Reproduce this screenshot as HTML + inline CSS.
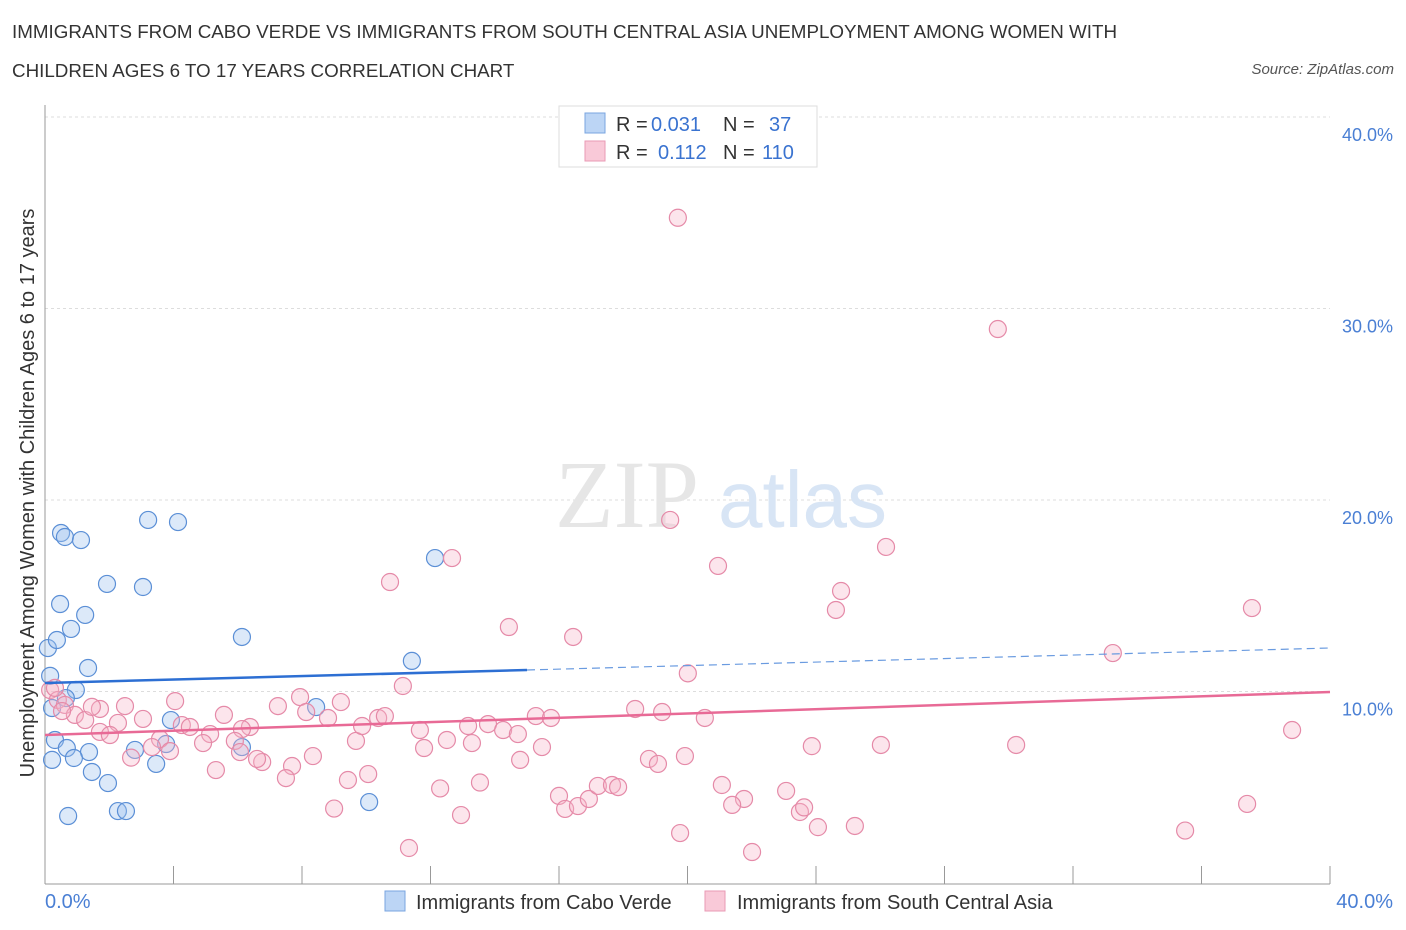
<!DOCTYPE html>
<html><head><meta charset="utf-8">
<style>
body{margin:0;background:#fff;font-family:"Liberation Sans",sans-serif;}
#wrap{position:relative;width:1406px;height:930px;overflow:hidden;}
.t{position:absolute;color:#333;font-size:18.8px;}
</style></head><body>
<div id="wrap">
<div class="t" style="left:12px;top:21px;">IMMIGRANTS FROM CABO VERDE VS IMMIGRANTS FROM SOUTH CENTRAL ASIA UNEMPLOYMENT AMONG WOMEN WITH</div>
<div class="t" style="left:12px;top:60px;">CHILDREN AGES 6 TO 17 YEARS CORRELATION CHART</div>
<div class="t" style="right:12px;top:61px;font-size:15px;font-style:italic;color:#555;">Source: ZipAtlas.com</div>
<svg id="svg" width="1406" height="930" style="position:absolute;left:0;top:0"></svg>
</div>
<script>
const yTicks=[10,20,30,40];
const xTickCount=10;
const blueX=[0.16,0.22,0.31,0.22,0.09,0.37,0.5,0.62,1.12,0.47,1.25,0.81,1.93,3.05,3.21,4.14,1.34,0.96,0.65,0.68,1.37,0.9,1.46,1.96,0.72,2.27,2.52,2.8,3.46,3.77,3.92,6.13,6.13,8.44,10.09,11.42,12.14];
const blueY=[10.87,9.19,7.52,6.48,12.32,12.74,18.33,18.12,17.96,14.62,14.05,13.32,15.67,15.51,19.01,18.9,11.28,10.13,9.71,7.1,6.89,6.58,5.85,5.27,3.55,3.81,3.81,7.0,6.27,7.31,8.56,7.15,12.9,9.24,4.28,11.65,17.02];
const pinkX=[19.7,29.66,19.46,26.18,20.95,12.67,10.74,24.78,24.62,37.57,14.44,16.44,33.24,20.01,11.14,0.16,0.4,0.62,0.93,1.25,0.31,0.53,2.49,4.05,7.94,7.25,9.21,5.57,8.13,8.81,10.37,10.58,11.67,13.17,13.79,14.26,14.72,15.28,15.75,18.37,19.21,20.54,2.27,3.05,4.26,4.51,5.14,6.38,6.13,5.91,4.92,3.58,3.33,3.89,2.68,1.71,2.02,6.76,6.6,7.69,8.34,9.68,9.87,11.8,12.51,13.29,14.79,15.47,18.8,19.08,19.92,23.87,26.02,30.23,38.82,5.32,7.5,9.43,10.06,12.3,13.54,16.0,16.19,16.59,16.93,17.21,17.65,17.84,21.07,21.76,23.07,23.5,25.21,21.39,23.63,9.0,12.95,24.06,19.77,11.33,22.01,35.49,37.42,1.71,1.46,6.07];
const pinkY=[34.79,28.98,19.01,17.6,16.61,17.02,15.77,15.3,14.31,14.41,13.42,12.9,12.06,11.0,10.34,10.13,9.61,9.35,8.83,8.56,10.24,9.03,9.29,9.55,9.76,9.29,9.5,8.83,8.98,8.67,8.67,8.77,8.04,8.25,8.35,8.04,7.83,8.77,8.67,9.14,8.98,8.67,8.41,8.62,8.3,8.2,7.83,8.2,8.09,7.47,7.36,7.57,7.15,6.94,6.6,7.94,7.78,6.37,6.53,6.16,6.68,7.47,8.25,7.1,7.52,7.36,6.48,7.15,6.53,6.27,6.68,7.2,7.26,7.26,8.04,5.95,5.53,5.43,5.74,4.99,5.3,4.6,3.92,4.07,4.44,5.12,5.17,5.06,5.17,4.44,4.86,3.76,3.03,4.13,4.0,3.94,3.6,2.97,2.66,1.88,1.67,2.79,4.18,9.14,9.25,6.89];
const X=v=>45+v*32.125, Y=v=>884-v*19.15;
const svg=document.getElementById('svg');const NS='http://www.w3.org/2000/svg';
function mk(t,a){const e=document.createElementNS(NS,t);for(const k in a)e.setAttribute(k,a[k]);svg.appendChild(e);return e;}
yTicks.forEach(v=>{const l=mk('line',{x1:45,x2:1330,y1:Y(v)-1,y2:Y(v)-1,stroke:'#ddd','stroke-dasharray':'3,3'});

const t=mk('text',{x:1393,y:Y(v)+23,'text-anchor':'end',fill:'#4a7fd4','font-size':18,'font-family':'Liberation Sans'});t.textContent=v.toFixed(1)+'%';
});
mk('line',{x1:45,x2:45,y1:105,y2:884,stroke:'#999'});
mk('line',{x1:45,x2:1330,y1:884,y2:884,stroke:'#999'});
for(let i=1;i<=xTickCount;i++){mk('line',{x1:X(i*4),x2:X(i*4),y1:866,y2:884,stroke:'#999'});}
const wm=mk('text',{x:555,y:527,fill:'#e6e6e6','font-size':96,'font-family':'Liberation Serif'});wm.textContent='ZIP';

const wm2=mk('text',{x:718,y:527,fill:'#d8e5f5','font-size':80,'font-family':'Liberation Sans'});wm2.textContent='atlas';
function dots(xs,ys,fill,stroke,name){xs.forEach((x,i)=>{const c=mk('circle',{cx:X(x),cy:Y(ys[i]),r:8.5,fill:fill,stroke:stroke,'stroke-width':1.2,'fill-opacity':0.35});
});}
dots(blueX,blueY,'#9cc0ee','#5b8fd6','point-cabo-verde');
dots(pinkX,pinkY,'#f6b4c8','#e58aa8','point-south-central-asia');
mk('line',{x1:45,y1:683,x2:527,y2:670,stroke:'#2d6fd3','stroke-width':2.5});
mk('line',{x1:527,y1:670,x2:1330,y2:648,stroke:'#6a9be0','stroke-width':1.2,'stroke-dasharray':'8,5'});
mk('line',{x1:45,y1:735,x2:1330,y2:692,stroke:'#e86a96','stroke-width':2.5});
mk('rect',{x:559,y:106,width:258,height:61,fill:'#fff',stroke:'#ddd'});
mk('rect',{x:585,y:113,width:20,height:20,fill:'#bcd5f5',stroke:'#7aa5e0'});
mk('rect',{x:585,y:141,width:20,height:20,fill:'#f9c9d8',stroke:'#e99ab5'});
function tx(x,y,s,c,n,a){const t=mk('text',{x:x,y:y,fill:c,'font-size':20,'font-family':'Liberation Sans','text-anchor':a||'start'});t.textContent=s;}
tx(616,131,'R =','#333','legend-r-label');tx(651,131,'0.031','#3a73d0','legend-r-blue');tx(723,131,'N =','#333','legend-n-label');tx(769,131,'37','#3a73d0','legend-n-blue');
tx(616,159,'R =','#333','legend-r-label');tx(658,159,'0.112','#3a73d0','legend-r-pink');tx(723,159,'N =','#333','legend-n-label');tx(762,159,'110','#3a73d0','legend-n-pink');
tx(45,908,'0.0%','#4a7fd4','x-min-label');tx(1393,908,'40.0%','#4a7fd4','x-max-label','end');
mk('rect',{x:385,y:891,width:20,height:20,fill:'#bcd5f5',stroke:'#7aa5e0'});
mk('rect',{x:705,y:891,width:20,height:20,fill:'#f9c9d8',stroke:'#e99ab5'});
tx(416,909,'Immigrants from Cabo Verde','#333','legend-cabo-verde');
tx(737,909,'Immigrants from South Central Asia','#333','legend-south-central-asia');
const yt=mk('text',{x:34,y:493,fill:'#333','font-size':20,'font-family':'Liberation Sans','text-anchor':'middle',transform:'rotate(-90 34 493)'});
yt.textContent='Unemployment Among Women with Children Ages 6 to 17 years';

</script>
</body></html>
